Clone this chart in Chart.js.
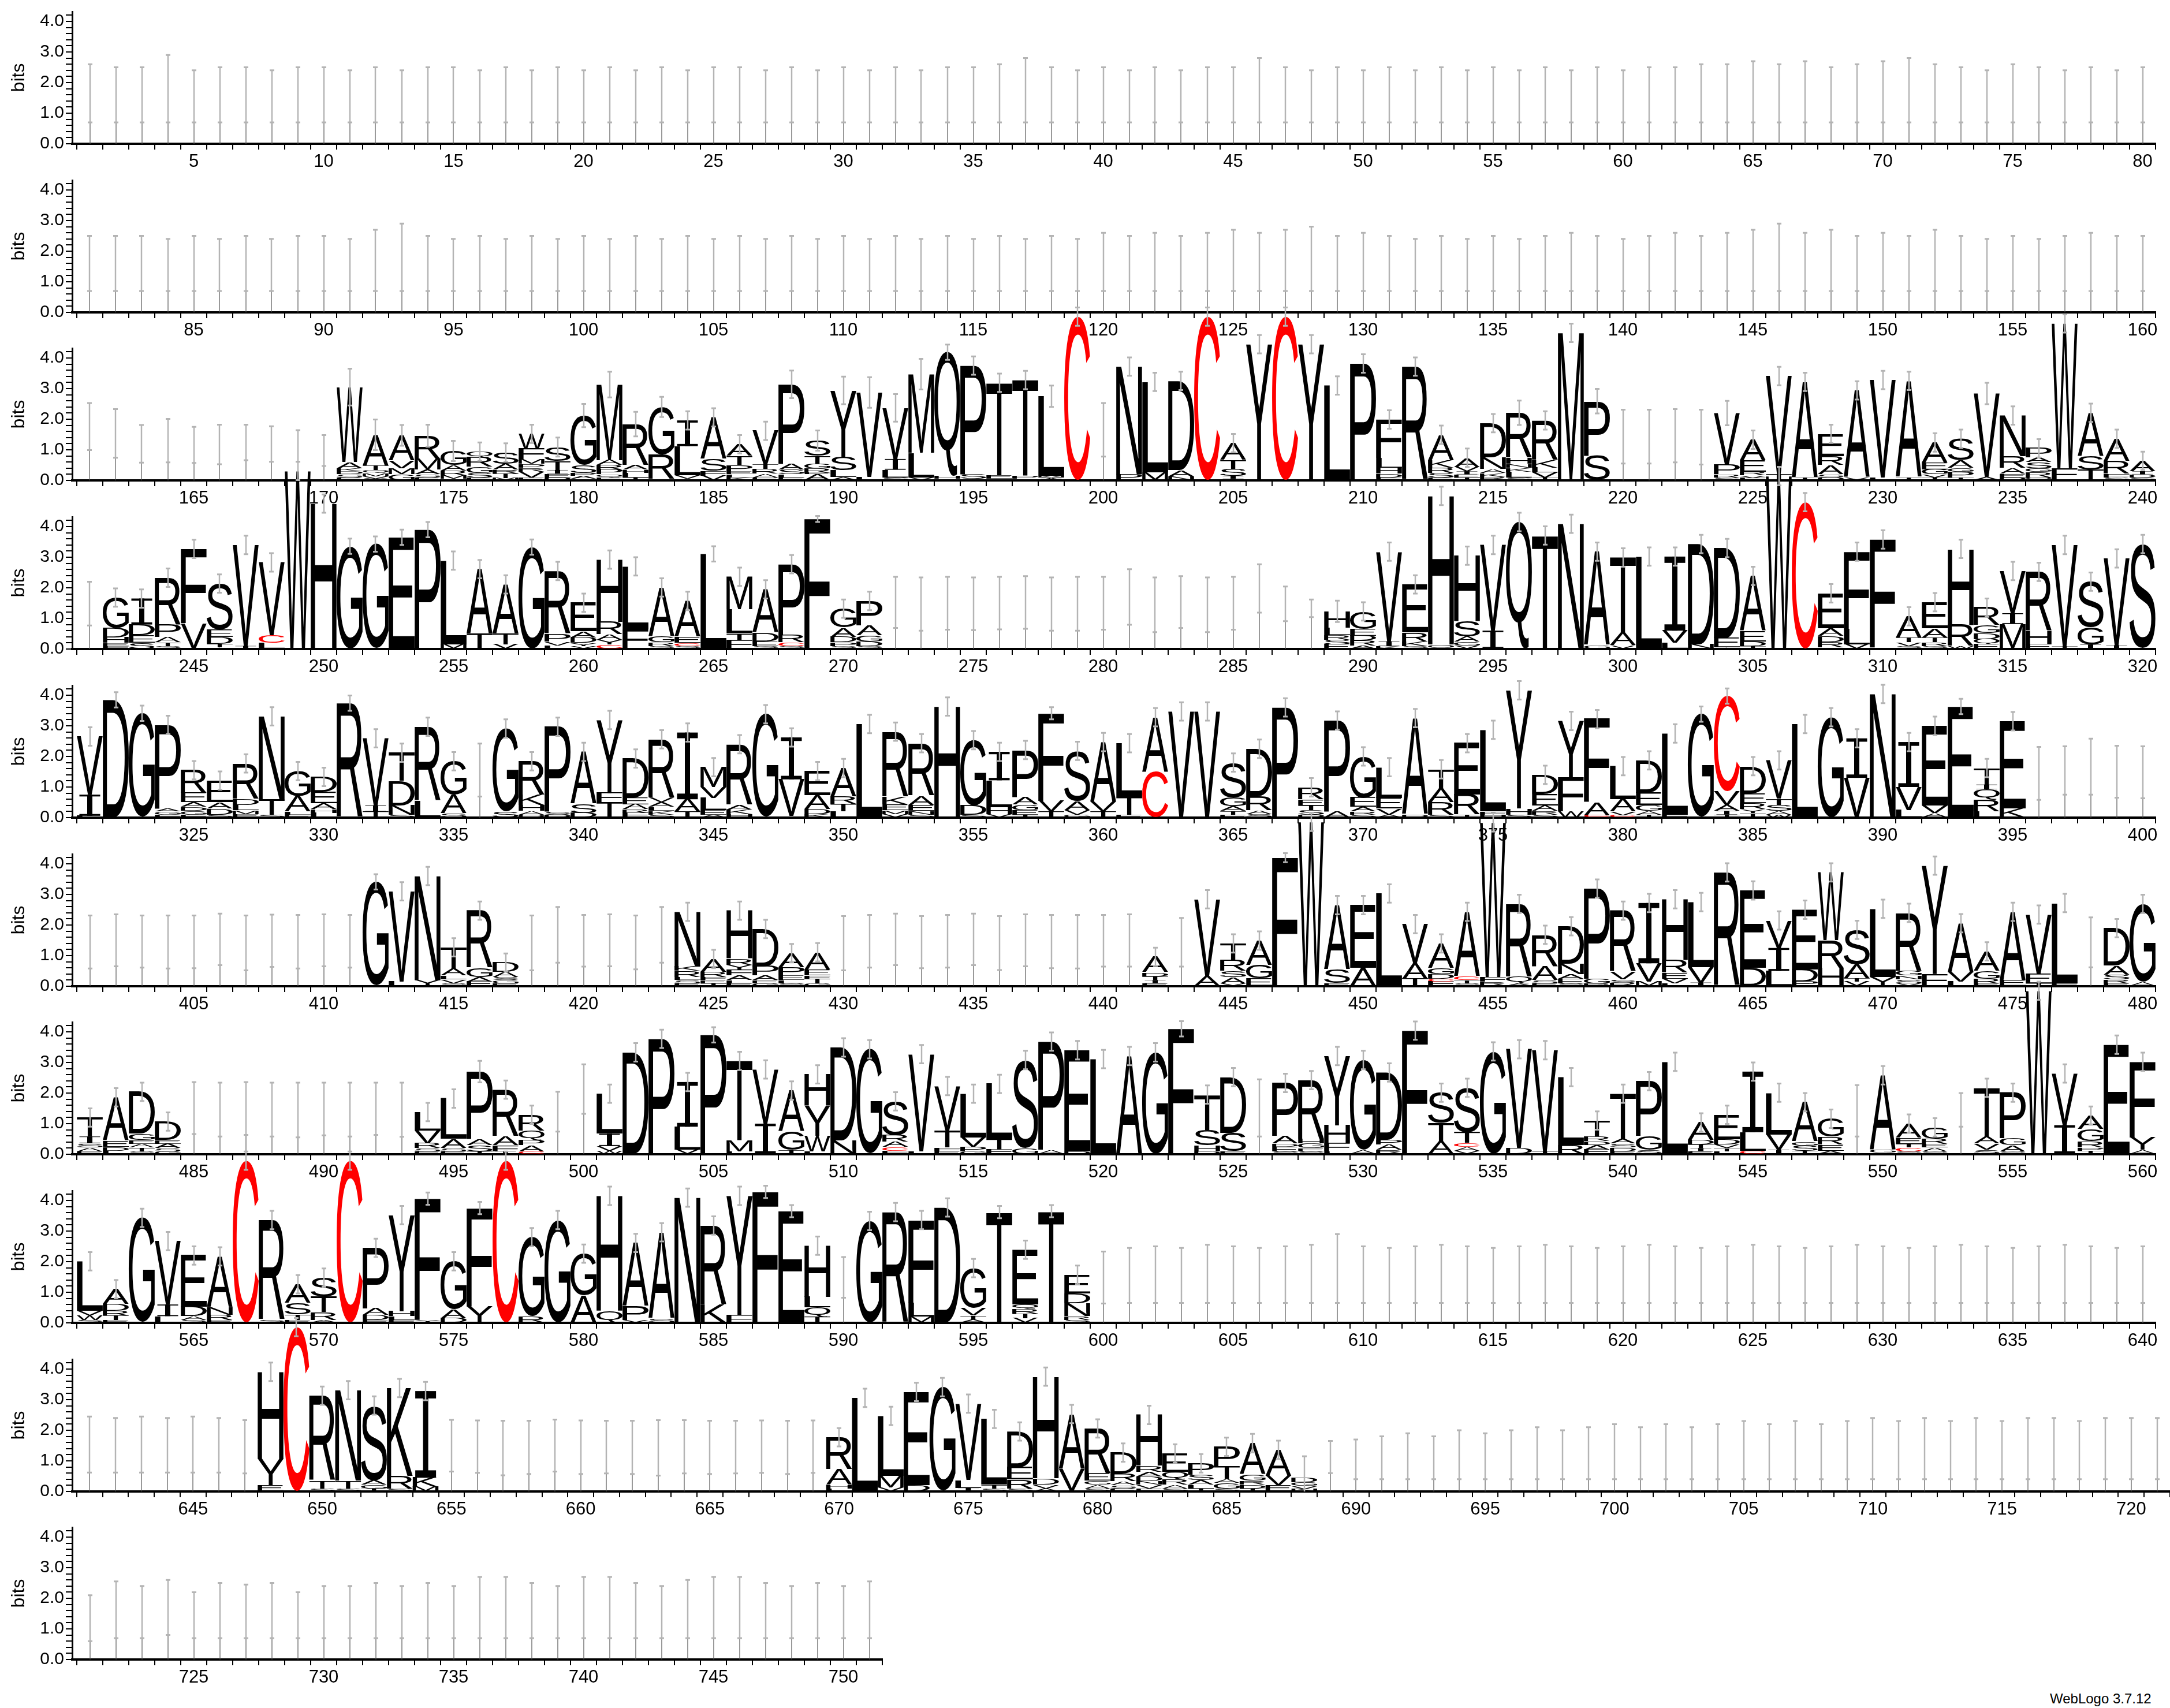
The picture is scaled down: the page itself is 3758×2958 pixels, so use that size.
<!DOCTYPE html>
<html>
<head>
<meta charset="utf-8">
<script src="https://cdn.jsdelivr.net/npm/chart.js@4.4.1/dist/chart.umd.min.js"></script>
<style>
html, body { margin: 0; padding: 0; background: #fff; }
#page { position: relative; width: 3758px; height: 2958px; overflow: hidden; background: #fff; }
#page canvas { position: absolute; left: 0; }
#credit { position: absolute; left: 3550px; top: 2928px; font: 24px "Liberation Sans", Arial, sans-serif; color: #000; }
</style>
</head>
<body>
<div id="page"><div id="credit">WebLogo 3.7.12</div></div>
<script>
// each entry is one column: letters bottom→top with heights in bits, then ';' and
// either the error half-width (letter columns) or the lo-hi range of the bar (gap columns)
const row1 = [
  ";.7-2.6", ";.7-2.5", ";.7-2.5", ";.7-2.9", ";.7-2.4", ";.7-2.5", ";.7-2.5", ";.7-2.4", ";.7-2.5", ";.7-2.5",
  ";.7-2.4", ";.7-2.5", ";.7-2.4", ";.7-2.5", ";.7-2.5", ";.7-2.4", ";.7-2.5", ";.7-2.4", ";.7-2.5", ";.7-2.4",
  ";.7-2.5", ";.7-2.4", ";.7-2.5", ";.7-2.4", ";.7-2.5", ";.7-2.5", ";.7-2.4", ";.7-2.5", ";.7-2.4", ";.7-2.5",
  ";.7-2.4", ";.7-2.5", ";.7-2.4", ";.7-2.5", ";.7-2.5", ";.7-2.6", ";.7-2.8", ";.7-2.5", ";.7-2.4", ";.7-2.5",
  ";.7-2.4", ";.7-2.5", ";.7-2.4", ";.7-2.5", ";.7-2.5", ";.7-2.8", ";.7-2.5", ";.7-2.4", ";.7-2.5", ";.7-2.4",
  ";.7-2.5", ";.7-2.4", ";.7-2.5", ";.7-2.4", ";.7-2.5", ";.7-2.4", ";.7-2.5", ";.7-2.4", ";.7-2.5", ";.7-2.4",
  ";.7-2.5", ";.7-2.5", ";.7-2.6", ";.7-2.6", ";.7-2.7", ";.7-2.6", ";.7-2.7", ";.7-2.5", ";.7-2.6", ";.7-2.7",
  ";.7-2.8", ";.7-2.6", ";.7-2.5", ";.7-2.4", ";.7-2.6", ";.7-2.5", ";.7-2.4", ";.7-2.5", ";.7-2.4", ";.7-2.5"
];
const row2 = [
  ";.7-2.5", ";.7-2.5", ";.7-2.5", ";.7-2.4", ";.7-2.5", ";.7-2.4", ";.7-2.5", ";.7-2.4", ";.7-2.5", ";.7-2.5",
  ";.7-2.4", ";.7-2.7", ";.7-2.9", ";.7-2.5", ";.7-2.4", ";.7-2.5", ";.7-2.4", ";.7-2.5", ";.7-2.4", ";.7-2.5",
  ";.7-2.4", ";.7-2.5", ";.7-2.4", ";.7-2.5", ";.7-2.4", ";.7-2.5", ";.7-2.4", ";.7-2.5", ";.7-2.4", ";.7-2.5",
  ";.7-2.4", ";.7-2.5", ";.7-2.4", ";.7-2.5", ";.7-2.4", ";.7-2.5", ";.7-2.4", ";.7-2.5", ";.7-2.4", ";.7-2.6",
  ";.7-2.5", ";.7-2.6", ";.7-2.5", ";.7-2.6", ";.7-2.7", ";.7-2.6", ";.7-2.7", ";.7-2.8", ";.7-2.5", ";.7-2.6",
  ";.7-2.5", ";.7-2.4", ";.7-2.5", ";.7-2.4", ";.7-2.5", ";.7-2.4", ";.7-2.5", ";.7-2.6", ";.7-2.5", ";.7-2.4",
  ";.7-2.5", ";.7-2.6", ";.7-2.5", ";.7-2.6", ";.7-2.7", ";.7-2.9", ";.7-2.6", ";.7-2.7", ";.7-2.5", ";.7-2.6",
  ";.7-2.5", ";.7-2.7", ";.7-2.5", ";.7-2.4", ";.7-2.5", ";.7-2.4", ";.7-2.5", ";.7-2.6", ";.7-2.5", ";.7-2.5"
];
const row3 = [
  ";.99-2.53", ";.74-2.33", ";.58-1.81", ";.59-2.01", ";.57-1.75", ";.53-1.82", ";.66-1.82", ";.61-1.77", ";.61-1.64", ";.47-1.48",
  "E.1,S.1,D.1,K.1,A.2,W2.45;.6", "S.06,V.08,M.1,Q.1,T.15,A1.0;.5", "G.2,M.2,V.25,A.82;.34", "E.1,S.1,A.15,M.35,R.76;.36", "E.05,M.12,R.15,A.18,G.46;.33",
  "E.1,S.15,G.2,R.31,Q.18;.3", "M.08,T.15,R.13,A.19,S.36;.3", "E.1,V.18,R.13,P.13,M.15,F.35,W.48;.3", "D.1,E.12,I.12,T.3,S.45;.31", "T.05,A.1,P.1,S.25,G1.62;.38",
  "E.1,Q.1,P.16,R.14,A.16,M2.47;.42", "T.1,L.15,H.1,A.15,R1.34;.4", "V.05,R.8,G1.55;.33", "M.05,V.12,L.95,I.84;.3", "V.16,F.15,S.4,A1.35;.3",
  "K.1,L.1,E.1,P.2,T.3,A.38;.3", "E.1,A.12,R.15,T.15,V1.1;.3", "E.1,L.1,S.15,A.2,P2.59;.45", "A.2,E.05,R.15,G.15,T.25,S.5;.33", "A.12,L.22,S.44,Y2.16;.45",
  "L.12,V2.75;.5", "S.1,L.25,I.35,V1.67;.45", "V.1,L.8,M2.57;.5", "E.05,H.1,Q4.04;.25", "A.05,S.15,P3.55;.3",
  "P.05,E.12,T3.02;.3", "S.05,P.1,T3.13;.3", "I.05,V.05,M.05,L2.6;.35", "C5.35;.3", ";.78-2.53",
  "P.2,N3.52;.3", "M.26,L2.96;.3", "N.14,A.2,D2.91;.3", "C5.35;.3", "E.05,I.1,S.22,T.3,A.55;.3",
  "Y4.45;.3", "C5.35;.3", "Y4.45;.3", "L3.1;.3", "P3.82;.3",
  "E.1,D.12,H.2,L.32,F1.25;.3", "R3.72;.3", "E.1,S.14,R.17,K.25,A.83;.3", "T.1,E.1,I.1,V.14,A.3;.3", "R.12,K.12,A.13,N.38,D1.12;.3",
  "S.1,L.18,K.13,N.13,H.2,R1.47;.4", "T.1,V.16,L.16,K.25,R1.29;.3", "M4.82;.3", "S.82,P1.77;.4", ";.55-2.31",
  ";.55-2.31", ";.59-2.33", ";.52-2.31", "S.1,R.1,P.3,V1.7;.4", "F.08,V.08,R.12,E.38,A.67;.3",
  "T.2,V3.21;.3", "T.1,A3.12;.3", "D.1,S.1,A.3,R.3,E.72;.3", "V.1,A2.84;.3", "L.1,V3.18;.3",
  "T.1,A3.15;.3", "T.1,V.1,G.16,E.22,A.66;.3", "T.1,P.18,G.13,A.25,S.7;.3", "A.12,V2.72;.35", "D.1,E.13,A.18,R.38,N1.33;.3",
  "Q.1,R.18,G.12,S.2,A.15,P.3;.3", "F.4,W4.73;.3", "T.35,S.44,A1.42;.3", "S.1,F.13,R.4,A.73;.3", "S.1,D.1,I.1,A.34;.3"
];
const row4 = [
  ";.77-2.2", "F.1,E.1,H.18,D.3,G1.0;.3", "S.2,E.25,D.35,I.85;.3", "S.1,T.12,A.18,P.4,R1.53;.3", "V.85,F2.42;.3",
  "A.05,T.12,D.22,E.25,S1.5;.3", "I.1,V3.3;.3", "L.2,C.25,V2.38;.3", "W5.82;.3", "H4.75;.3",
  "G3.36;.25", "G3.43;.25", "E3.65;.25", "P3.9;.25", "M.15,L2.74;.3",
  "T.5,A2.11;.3", "V.15,T.35,A1.61;.3", "G3.33;.25", "L.12,V.13,P.25,R2.05;.3", "V.1,Y.1,D.18,A.2,E.93;.3",
  "C.15,Y.15,A.18,R.4,H2.04;.3", "F.65,L2.05;.3", "S.1,R.13,G.2,A1.58;.3", "S.1,C.1,E.2,A1.17;.3", "L3.11;.25",
  "F.3,T.2,L.8,M1.06;.3", "S.1,E.15,D.28,A1.42;.3", "S.1,C.12,R.25,P2.3;.3", "F4.25;.1", "S.1,P.12,D.18,A.3,G.62;.3",
  "S.1,D.15,G.2,A.32,P.8;.3", ";.69-2.36", ";.6-2.34", ";.63-2.36", ";.62-2.34",
  ";.64-2.36", ";.66-2.38", ";.6-2.34", ";.6-2.36", ";.63-2.36",
  ";.79-2.61", ";.55-2.34", ";.69-2.38", ";.55-2.34", ";.63-2.36",
  ";1.19-2.77", ";.91-2.04", ";1.04-1.62", "E.15,S.15,R.15,L.25,H.53;.35", "A.12,R.16,D.16,E.22,G.57;.3",
  "K.1,I.15,V2.93;.3", "S.1,K.15,R.3,E1.56;.3", "Q.15,H4.85;.3", "V.12,G.13,A.16,S.5,H2.14;.3", "I.6,V2.8;.3",
  "Q4.15;.3", "T3.71;.3", "N4.09;.3", "G.12,A3.06;.3", "V.12,A.4,T2.47;.3",
  "L3.02;.3", "L.2,V.4,I2.42;.3", "N.15,D3.28;.3", "A.05,E.3,D2.95;.3", "T.1,D.15,E.34,A1.8;.3",
  "W5.65;.3", "C4.8;.3", "S.05,R.18,D.2,A.25,E1.14;.3", "V.15,L.5,F2.53;.3", "L.05,F3.53;.3",
  "S.1,V.12,T.15,A.7;.3", "S.1,R.13,T.15,A.3,E.85;.3", "W.1,R.7,H2.47;.3", "E.15,Q.18,D.2,G.25,R.57;.3", "M.82,I.35,V1.38;.3",
  "E.15,H.45,R1.92;.3", "T.1,V3.3;.3", "I.15,G.56,S1.49;.3", "I.12,V2.84;.3", "S3.43;.3"
];
const row5 = [
  "L.06,I.69,V1.9;.3", "D3.85;.25", "G3.41;.25", "F.1,G.1,A.1,P2.73;.3", "F.1,G.12,D.13,A.15,E.3,R.75;.3",
  "S.1,D.2,A.2,E.71;.3", "E.12,M.13,L.17,D.2,R1.15;.3", "S.1,T.5,N2.71;.3", "E.1,L.1,A.5,G.82;.3", "L.15,H.13,A.19,E.38,D.48;.3",
  "R3.74;.25", "T.2,I.2,V2.19;.3", "S.1,N.3,D.8,T.92;.3", "L.55,R2.42;.3", "S.15,A.6,G1.09;.3",
  ";.69-2.42", "S.2,G2.71;.3", "D.1,A.12,H.2,K.33,R1.09;.3", "D.1,S.1,P2.77;.3", "D.15,S.3,A1.7;.3",
  "T.5,F.3,Y2.39;.3", "F.15,R.13,A.16,E.22,D1.27;.3", "S.1,K.13,L.13,A.15,V.15,R1.9;.3", "T.2,A.4,I2.18;.3", "A.1,E.15,L.4,V.35,M.65;.3",
  "H.12,K.15,A.15,R1.98;.3", "G3.38;.3", "L.05,V1.2,I1.37;.3", "K.12,D.16,A.45,E.79;.3", "L.2,T.25,R.25,A.92;.3",
  "L3.06;.3", "V.12,M.12,E.2,K.25,R2.12;.3", "S.1,N.12,E.2,A.3,R1.71;.3", "H3.63;.3", "S.1,D.3,G2.13;.3",
  "V.12,H.22,L.88,I.93;.3", "T.1,E.15,G.18,A.25,P1.53;.3", "T.2,V.35,F2.86;.2", "G.1,V.15,A.3,S1.63;.3", "T.2,V.32,A1.95;.3",
  "E.1,T.6,L1.73;.3", "C1.5,A1.78;.3", "V3.47;.3", "V3.47;.3", "E.1,T.12,A.15,G.3,S1.13;.3",
  "S.12,A.13,R.45,D1.55;.3", "P3.6;.3", "D.1,S.15,T.15,E.2,R.39;.3", "A.2,P2.97;.3", "S.1,R.1,A.15,E.3,G1.35;.3",
  "A.1,V.2,E.35,L1.0;.3", "D.1,A3.15;.3", "S.1,R.4,A.45,T.63;.3", "T.1,R.65,E1.68;.3", "H.1,F.1,L2.67;.3",
  "S.1,H.2,Y3.86;.3", "S.1,R.13,A.17,E.38,D.62;.3", "W.2,F1.1,Y1.86;.3", "C.08,A.42,F2.72;.3", "C.08,V.12,A.4,L1.08;.3",
  "T.1,A.12,G.2,E.4,D1.05;.3", "F.1,L2.65;.3", "G3.38;.25", "T.1,I.12,A.2,V.45,C3.1;.25", "T.15,Y.13,R.2,E.32,D.88;.3",
  "W.1,A.12,S.2,T.2,V1.25;.3", "L3.06;.3", "G3.28;.3", "V1.3,I1.29;.3", "N4.04;.3",
  "L.25,V.75,I1.47;.3", "A.15,V.25,E2.6;.3", "E3.63;.25", "L.2,R.38,Q.35,I.15,T.54;.3", "K.3,E2.85;.3",
  ";.58-2.31", ";.75-2.33", ";.75-2.58", ";.65-2.35", ";.63-2.33"
];
const row6 = [
  ";.58-2.31", ";.65-2.35", ";.61-2.31", ";.58-2.31", ";.59-2.31", ";.69-2.37", ";.52-2.31", ";.63-2.34", ";.58-2.33", ";.65-2.35",
  ";.61-2.33", "G3.41;.25", "L.15,V2.95;.3", "Y.2,N3.4;.3", "S.1,V.12,L.13,A.22,T.7;.3",
  "E.15,A.15,G.3,R1.87;.3", "E.1,G.1,S.1,A.17,D.3;.3", ";.52-2.31", ";.77-2.59", ";.64-2.33",
  ";.65-2.35", ";.55-2.31", ";.77-2.59", "E.1,S.1,L.1,R.2,K.15,N1.78;.3", "T.1,E.1,F.1,R.17,A.42;.3",
  "E.1,L.1,A.15,F.2,Y.15,R.2,H1.57;.3", "G.1,E.1,A.15,P.3,D1.22;.3", "S.1,L.1,E.15,P.27,A.46;.3", "G.1,T.15,F.1,E.2,A.56;.3", ";.52-2.29",
  ";.61-2.33", ";.69-2.37", ";.59-2.29", ";.61-2.33", ";.69-2.37",
  ";.53-2.29", ";.65-2.35", ";.59-2.33", ";.58-2.33", ";.64-2.33",
  ";.64-2.35", "E.1,I.1,T.13,D.13,A.5;.3", ";.64-2.23", "A.32,V2.52;.3", "V.1,A.2,S.2,R.35,T.55;.3",
  "E.25,G.45,A.79;.3", "F4.2;.15", "W5.37;.3", "E.1,S.45,A2.1;.3", "A.6,E2.05;.3",
  "L3.03;.3", "T.25,A.5,V1.28;.3", "F.15,C.1,D.15,G.2,A.8;.3", "S.1,T.1,C.13,A2.1;.3", "R.15,F.15,W5.05;.3",
  "A.1,Q.2,R2.39;.3", "E.1,S.1,A.45,R1.03;.3", "S.1,E.15,A.15,N.33,D1.23;.3", "R.1,G.15,P2.94;.3", "R.12,S.1,V.25,R2.0;.3",
  "M.15,V.6,I1.97;.3", "L.1,V.15,E.2,R.4,H1.99;.3", "I.12,V.5,L2.13;.3", "R3.72;.3", "D.6,E2.53;.3",
  "L.5,I.75,V.9;.3", "P.15,D.4,E1.95;.3", "H.6,R.9,W2.22;.3", "V.15,T.12,A.45,S1.12;.3", "Y.3,L2.23;.3",
  "V.1,S.12,N.13,G.15,R1.9;.3", "F.4,Y3.54;.3", "L.15,V.3,A1.61;.3", "E.1,R.15,G.25,A.64;.3", "E.2,A2.23;.3",
  "T.1,E.3,V1.94;.3", "F.1,L2.62;.3", ";.62-2.25", "E.1,R.12,S.15,A.3,D1.23;.3", "A.15,G2.54;.3"
];
const row7 = [
  "E.1,A.13,S.13,I.22,T.62;.3", "L.12,D.13,E.2,A1.41;.3", "S.1,T.12,A.12,E.13,G.2,D1.37;.3", "G.1,S.1,A.14,E.13,D.6;.3", ";.66-2.36",
  ";.58-2.34", ";.63-2.36", ";.58-2.34", ";.55-2.34", ";.62-2.34",
  ";.58-2.34", ";.63-2.34", ";.57-2.34", "E.1,S.1,R.16,V.42,L.6;.3", "E.1,S.1,A.3,L1.32;.3",
  "T.1,S.2,A.2,P2.2;.35", "I.1,F.2,A.3,R1.51;.3", "C.1,A.2,P.17,Q.3,R.52;.3", ";.74-2.04", ";1.32-2.94",
  "W.12,V.15,I.4,L1.31;.3", "D3.33;.3", "P3.77;.3", "V.15,L.75,I1.46;.3", "P3.9;.25",
  "L.1,M.35,T2.6;.3", "I1.0,V1.77;.3", "T.15,G.6,A1.33;.3", "L.1,W.5,Y1.0,H1.01;.3", "N.45,D3.04;.3",
  "G3.43;.3", "F.12,C.12,A.17,R.22,S1.1;.3", "L.1,V3.17;.3", "E.1,F.13,T.55,V1.45;.3", "G.1,P.15,V.3,L1.43;.3",
  "F.15,T.35,L1.8;.3", "G.2,S2.88;.3", "A.15,P3.53;.3", "D.1,E3.3;.3", "L3.11;.3",
  "A3.21;.3", "G3.33;.3", "F4.1;.25", "D.1,H.2,S.5,T1.15;.3", "E.1,S.6,D1.82;.3",
  ";.58-2.45", "S.1,E.15,D.1,A.25,P1.73;.3", "S.1,E.1,G.15,H.15,R1.92;.3", "L.1,F.28,H.57,Y2.26;.3", "A.15,G2.93;.3",
  "R.15,A.18,P.15,D2.19;.3", "F4.04;.3", "A.42,T.6,S.99;.3", "V.12,A.13,C.12,T.35,S1.45;.3", "G3.36;.3",
  "D.2,V3.23;.3", "T.1,V3.3;.3", "R.3,L2.22;.3", "E.15,A.15,D.13,R.15,T.52;.3", "E.1,D.12,S.13,A.15,T1.48;.3",
  "S.15,G.45,P1.79;.3", "L3.02;.3", "E.1,I.1,T.12,D.15,A.57;.3", "L.1,T.1,V.13,D.16,E.8;.3", "C.12,L.6,I1.98;.3",
  "I.15,V.5,L1.36;.3", "T.12,S.17,G.13,A1.28;.3", "A.12,E.2,R.25,G.59;.3", ";.58-2.26", "P.05,G.1,A2.43;.3",
  "S.1,C.12,T.12,E.2,A.46;.3", "S.1,A.12,E.12,R.16,G.38;.3", ";.9-2.0", "S.15,V.2,A.22,T1.6;.3", "S.1,A.2,G.22,P1.49;.3",
  "W5.34;.3", "I.95,V1.69;.3", "T.12,P.1,R.2,G.4,A.44;.3", "E3.58;.3", "A.15,Y.4,F2.47;.3"
];
const row8 = [
  "S.1,W.15,V.15,L1.61;.3", "E.1,T.15,R.15,D.22,A.48;.3", "G3.43;.3", "L.22,I.38,V2.07;.3", "S.1,A.12,D.3,E1.68;.3",
  "E.1,R.17,N.25,A1.65;.3", "C5.3;.3", "S.1,R3.26;.3", "E.1,T.18,S.38,A.6;.3", "A.1,R.25,T.5,S.63;.3",
  "C5.3;.3", "E.1,D.16,A.22,P1.97;.3", "F.1,L.12,H.16,Y3.14;.3", "Y.1,F3.96;.2", "D.15,A.3,G1.56;.3",
  "Y.55,F3.2;.2", "C5.3;.3", "R.22,G2.58;.3", "G3.36;.3", "A.9,G1.36;.3",
  "Q.4,H3.75;.3", "V.1,P.45,A2.06;.3", "S.15,A2.81;.3", "N4.09;.3", "K.6,R2.58;.3",
  "F.25,Y3.9;.3", "F4.28;.2", "E3.65;.2", "T.2,Q.3,L.35,H1.67;.3", ";.82-2.15",
  "G3.33;.3", "R3.62;.3", "M.2,L.45,F2.71;.3", "D3.77;.3", "A.12,T.12,V.25,G1.3;.3",
  "T3.62;.2", "V.15,T.15,R.15,Q.15,E1.79;.3", "T3.65;.2", "S.1,R.13,N.42,D.32,E.6;.3", ";.63-2.33",
  ";.65-2.45", ";.65-2.5", ";.65-2.45", ";.65-2.55", ";.65-2.5", ";.65-2.45", ";.65-2.5", ";.65-2.55", ";.65-2.9", ";.65-2.5",
  ";.65-2.45", ";.65-2.5", ";.65-2.55", ";.65-2.5", ";.65-2.45", ";.65-2.5", ";.65-2.55", ";.65-2.5", ";.65-2.45", ";.65-2.5",
  ";.65-2.55", ";.65-2.5", ";.65-2.45", ";.65-2.5", ";.65-2.55", ";.65-2.5", ";.65-2.45", ";.65-2.5", ";.65-2.55", ";.65-2.5",
  ";.65-2.45", ";.65-2.5", ";.65-2.55", ";.65-2.5", ";.65-2.45", ";.65-2.5", ";.65-2.55", ";.65-2.5", ";.65-2.45", ";.65-2.5"
];
const row9 = [
  ";.62-2.45", ";.62-2.4", ";.62-2.45", ";.62-2.4", ";.62-2.45", ";.62-2.4", ";.59-2.33", "E.2,Y.88,H2.83;.3", "C5.37;.3", "S.1,T.25,R2.78;.3",
  "S.1,T.25,N2.96;.3", "T.1,G.12,A.15,S2.44;.3", "S.1,R.4,K2.88;.3", "M.15,K.3,I2.83;.3", ";.65-2.34",
  ";.61-2.32", ";.53-2.31", ";.57-2.31", ";.65-2.35", ";.57-2.32",
  ";.59-2.31", ";.57-2.31", ";.52-2.33", ";.59-2.33", ";.57-2.31",
  ";.59-2.31", ";.61-2.32", ";.57-2.31", ";.61-2.32", "L.1,H.12,A.5,R1.05;.3",
  "L3.06;.3", "V.13,M.38,L1.96;.3", "D.2,E3.05;.3", "G3.41;.3", "I.12,L.25,V2.5;.3",
  "S.1,T.12,L2.15;.3", "S.1,R.3,E.4,D1.16;.3", "A.1,V.13,D.2,H3.32;.3", "V.75,A1.78;.3", "S.1,A.12,G.13,E.25,R1.46;.3",
  "E.1,S.1,A.13,R.25,D.69;.3", "E.1,V.12,N.12,D.15,A.15,R.2,H1.66;.3", "S.1,A.12,R.18,Q.25,E.59;.3", "T.1,L.12,A.15,S.17,P.38;.3", "S.1,G.18,A.13,T.4,P.65;.3",
  "T.1,D.13,R.13,G.2,A1.02;.3", "E.2,V.3,A.86;.3", "N.08,V.1,G.12,D.15;.7", ";.6-1.65", ";.4-1.7",
  ";.4-1.8", ";.4-1.9", ";.4-1.8", ";.4-2.0", ";.4-1.9", ";.4-2.0", ";.4-2.1", ";.4-2.0", ";.4-2.1", ";.4-2.2",
  ";.4-2.1", ";.4-2.2", ";.4-2.1", ";.4-2.2", ";.4-2.3", ";.4-2.2", ";.4-2.3", ";.4-2.2", ";.4-2.3", ";.4-2.4",
  ";.4-2.3", ";.4-2.4", ";.4-2.3", ";.4-2.4", ";.4-2.3", ";.4-2.4", ";.4-2.4", ";.4-2.3", ";.4-2.4", ";.4-2.4",
  ";.4-2.4"
];
const row10 = [
  ";.6-2.1", ";.7-2.55", ";.7-2.4", ";.8-2.6", ";.7-2.2", ";.7-2.5", ";.7-2.45", ";.7-2.5", ";.7-2.2", ";.7-2.4",
  ";.7-2.4", ";.7-2.5", ";.7-2.4", ";.7-2.5", ";.7-2.4", ";.7-2.7", ";.7-2.7", ";.7-2.5", ";.7-2.4", ";.7-2.7",
  ";.7-2.7", ";.7-2.5", ";.7-2.4", ";.7-2.6", ";.7-2.7", ";.7-2.7", ";.7-2.5", ";.7-2.4", ";.7-2.5", ";.7-2.4",
  ";.7-2.55"
];

const rows = [row1, row2, row3, row4, row5, row6, row7, row8, row9, row10];
const rowStarts = [1, 81, 161, 241, 321, 401, 481, 561, 641, 721];
const bitTicks = [0, 0.2, 0.4, 0.6, 0.8, 1.0, 1.2, 1.4, 1.6, 1.8, 2.0, 2.2, 2.4, 2.6, 2.8, 3.0, 3.2, 3.4, 3.6, 3.8, 4.0, 4.2];
const maxBits = 4.32;

const ROW_PITCH = 291.7;
const EXTRA = 150;        // room above each plot for letters taller than the axis
const COL_W = 45;
const AXIS_W = 125;
const GAP_PX = 8;
const FONT = '"Liberation Sans", Arial, Helvetica, sans-serif';
const GLYPH_FONT = '200px ' + FONT;

function parseColumn(s, pos) {
  const parts = s.split(';');
  const letters = parts[0] ? parts[0].split(',').map(t => ({ ch: t[0], h: parseFloat(t.slice(1)) })) : [];
  const total = letters.reduce((a, l) => a + l.h, 0);
  let lo, hi;
  if (parts[1].indexOf('-') > 0) {
    const r = parts[1].split('-');
    lo = Number(r[0]); hi = Number(r[1]);
  } else {
    const e = Number(parts[1]);
    lo = total - e; hi = total + e;
  }
  return { pos, letters, lo, hi, gap: letters.length === 0 };
}

const glyphCache = {};
function glyphBox(ctx, ch) {
  if (!glyphCache[ch]) {
    ctx.font = GLYPH_FONT;
    const m = ctx.measureText(ch);
    glyphCache[ch] = { l: m.actualBoundingBoxLeft, r: m.actualBoundingBoxRight, a: m.actualBoundingBoxAscent, d: m.actualBoundingBoxDescent };
  }
  return glyphCache[ch];
}

// WebLogo draws I with serifs; the sans I would fill the whole column
function drawSerifI(ctx, left, top, w, h) {
  const bar = Math.max(h * 0.085, 0.5);
  const bw = w * 0.8, stem = w * 0.2;
  const cx = left + w / 2;
  ctx.fillRect(cx - bw / 2, top, bw, bar);
  ctx.fillRect(cx - bw / 2, top + h - bar, bw, bar);
  ctx.fillRect(cx - stem / 2, top, stem, h);
}

function makeLogoPlugin(columns) {
  return {
    id: 'logo',
    afterDatasetsDraw(chart) {
      const ctx = chart.ctx;
      chart.data.datasets.forEach((ds, i) => {
        const meta = chart.getDatasetMeta(i);
        meta.data.forEach((bar, j) => {
          const p = bar.getProps(['x', 'y', 'base', 'width'], true);
          const h = p.base - p.y;
          if (h < 0.4) return;
          const ch = ds.chars[j];
          ctx.save();
          ctx.fillStyle = ch === 'C' ? '#ff0000' : '#000000';
          if (ch === 'I') {
            drawSerifI(ctx, p.x - p.width / 2, p.y, p.width, h);
          } else {
            const g = glyphBox(ctx, ch);
            ctx.translate(p.x - p.width / 2, p.y);
            ctx.scale(p.width / (g.l + g.r), h / (g.a + g.d));
            ctx.font = GLYPH_FONT;
            ctx.textAlign = 'left';
            ctx.textBaseline = 'alphabetic';
            ctx.fillText(ch, g.l, g.a);
          }
          ctx.restore();
        });
      });
      // error bars
      const xs = chart.scales.x, ys = chart.scales.y;
      ctx.save();
      columns.forEach(c => {
        const px = Math.round(xs.getPixelForValue(c.pos));
        const y0 = ys.getPixelForValue(0);
        const yLo = ys.getPixelForValue(Math.max(c.lo, 0));
        const yHi = ys.getPixelForValue(c.hi);
        if (c.gap) {
          ctx.strokeStyle = '#555555';
          ctx.lineWidth = 1.2;
          ctx.beginPath(); ctx.moveTo(px, y0); ctx.lineTo(px, yLo); ctx.stroke();
        }
        ctx.strokeStyle = '#b4b4b4';
        ctx.lineWidth = 2.5;
        ctx.beginPath(); ctx.moveTo(px, yLo); ctx.lineTo(px, yHi); ctx.stroke();
        ctx.lineWidth = 3;
        ctx.beginPath();
        ctx.moveTo(px - 4, yHi); ctx.lineTo(px + 4, yHi);
        if (c.lo > 0) { ctx.moveTo(px - 4, yLo); ctx.lineTo(px + 4, yLo); }
        ctx.stroke();
      });
      ctx.restore();
    }
  };
}

const page = document.getElementById('page');

rows.forEach((entries, k) => {
  const start = rowStarts[k];
  const n = entries.length;
  const columns = entries.map((s, i) => parseColumn(s, start + i));
  const positions = columns.map(c => c.pos);
  const depth = Math.max(1, ...columns.map(c => c.letters.length));

  const datasets = [];
  for (let d = 0; d < depth; d++) {
    const data = [], chars = [];
    columns.forEach(c => {
      if (c.letters.length > d) {
        data.push({ x: c.pos, y: c.letters[d].h });
        chars.push(c.letters[d].ch);
      }
    });
    datasets.push({
      data, chars,
      backgroundColor: 'rgba(0,0,0,0)',
      borderWidth: 0,
      barThickness: COL_W,
      clip: false
    });
  }

  const canvas = document.createElement('canvas');
  const W = 3758, H = EXTRA + 292;
  canvas.width = W; canvas.height = H;
  canvas.style.width = W + 'px'; canvas.style.height = H + 'px';
  canvas.style.top = (Math.round(k * ROW_PITCH) - EXTRA) + 'px';
  page.appendChild(canvas);

  const right = AXIS_W + GAP_PX + n * COL_W;

  new Chart(canvas.getContext('2d'), {
    type: 'bar',
    data: { datasets },
    options: {
      responsive: false,
      animation: false,
      events: [],
      devicePixelRatio: 1,
      layout: { padding: { top: EXTRA + 20, right: W - right, bottom: 0, left: 0 } },
      plugins: { legend: { display: false }, tooltip: { enabled: false } },
      scales: {
        x: {
          type: 'linear',
          stacked: true,
          offset: false,
          min: start - 0.5 - GAP_PX / COL_W,
          max: start + n - 0.5,
          afterBuildTicks: s => { s.ticks = positions.map(v => ({ value: v })); },
          afterFit: s => { s.height = 43; },
          grid: { display: true, drawOnChartArea: false, drawTicks: true, tickLength: 10, color: '#000', lineWidth: 2 },
          border: { display: true, color: '#000', width: 4 },
          ticks: {
            autoSkip: false, maxRotation: 0, minRotation: 0, padding: 3,
            color: '#000', font: { family: FONT, size: 31 },
            callback: v => (v % 5 === 0 ? String(v) : '')
          }
        },
        y: {
          type: 'linear',
          stacked: true,
          min: 0,
          max: maxBits,
          afterBuildTicks: s => { s.ticks = bitTicks.map(v => ({ value: v })); },
          afterFit: s => { s.width = AXIS_W; },
          grid: { display: true, drawOnChartArea: false, drawTicks: true, tickLength: 11, color: '#000', lineWidth: 2 },
          border: { display: true, color: '#000', width: 3 },
          title: { display: true, text: 'bits', color: '#000', font: { family: FONT, size: 32 }, padding: { top: 14, bottom: 0 } },
          ticks: {
            autoSkip: false, padding: 3, color: '#000', font: { family: FONT, size: 30 },
            callback: v => { const r = Math.round(v * 10); return r % 10 === 0 ? (r / 10).toFixed(1) : ''; }
          }
        }
      }
    },
    plugins: [makeLogoPlugin(columns)]
  });
});
</script>
</body>
</html>
